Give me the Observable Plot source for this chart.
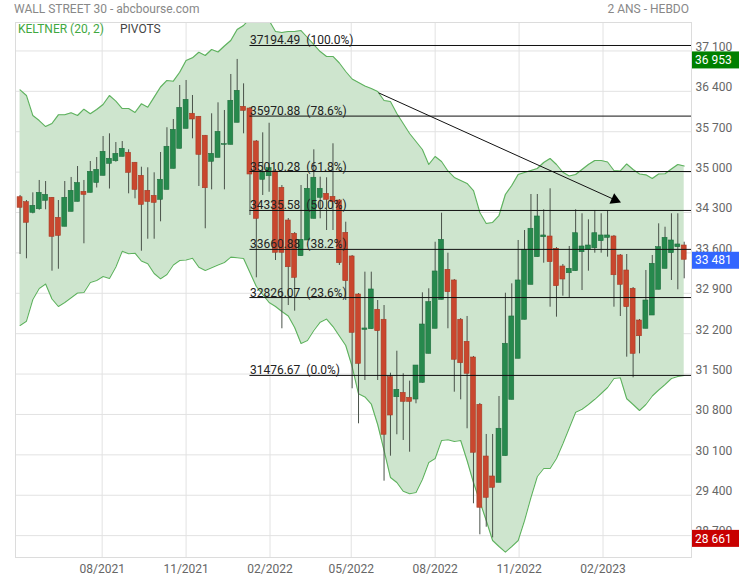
<!DOCTYPE html>
<html><head><meta charset="utf-8">
<script src="https://cdn.jsdelivr.net/npm/d3@7"></script>
<script src="https://cdn.jsdelivr.net/npm/@observablehq/plot@0.6"></script>
<style>
body{margin:0;background:#fff;font-family:Roboto,sans-serif;}
#wrap{position:relative;width:739px;height:580px;overflow:hidden;}
.t{position:absolute;font-size:12px;white-space:pre;line-height:14px;font-family:Roboto,sans-serif;}
</style></head><body>
<div id="wrap">
<div class="t" style="left:14px;top:2px;color:#888">WALL STREET 30 - abcbourse.com</div>
<div class="t" style="right:50px;top:2px;color:#888">2 ANS - HEBDO</div>
<div class="t" style="left:18px;top:22px;color:#3fa83f">KELTNER (20, 2)</div>
<div class="t" style="left:120px;top:22px;color:#444">PIVOTS</div>
</div>
<script>
const firstWeek = "2021-05-03";
const opens = [34565,34479,34295,34357,34503,34555,34208,34053,34312,34485,
34658,34641,34811,34936,35144,35189,35265,35335,35162,34936,
34676,34589,34520,34693,35057,35404,35750,36011,35959,35630,
35179,35248,35473,35473,35855,36132,36102,35531,34867,34929,
35011,34728,34161,33931,33543,33815,34191,34555,34624,34572,
34508,33948,33538,32879,32267,32278,32614,32441,31446,31099,
31175,31089,31059,31349,31851,32285,32787,33307,33122,32441,
32059,31787,30967,30071,29725,29616,30078,31054,31765,32441,
33047,33526,33872,33884,33671,33364,33248,33283,33612,33654,
33681,33803,33861,33884,33555,33295,32978,32428,32285,32515,
32961,33324,33595,33699,33728];
const highs = [34595,34508,34641,34855,34837,34560,34508,34837,34907,35097,
34855,35184,35253,35617,35664,35513,35530,35387,35167,35085,
35075,34988,35340,35769,35912,36501,36588,36328,35964,35635,
36011,36201,36068,36692,36953,36530,36120,35548,35681,35847,
35045,34768,34196,33953,34768,34959,35387,34912,34902,35491,
34525,34132,33555,32896,33266,33266,32775,32688,31515,31896,
31505,31377,31648,32908,32978,33785,34288,33595,33139,32463,
32498,31805,30990,30453,30453,31111,32901,33064,33815,33988,
34612,34612,34347,34711,33693,33399,33711,34347,34278,34173,
34335,34278,34335,33902,33572,33572,33000,32446,33295,33555,
34104,34045,34278,34278,33785];
const lows = [33572,33498,34277,34340,34347,33283,33317,34053,34312,34485,
33758,34641,34725,34936,34707,35172,35265,34624,34537,33629,
33837,33837,34139,34693,35057,35404,35750,35577,34751,34018,
34693,35248,34693,35473,35855,35664,34248,33168,34595,34651,
33468,32285,32688,32590,33537,33815,34191,34191,33988,33988,
33382,32775,31245,30638,31389,32278,31389,29644,30077,30448,
30349,30146,30985,31342,31851,32285,32787,32285,31186,31054,
30552,29252,28715,28846,28661,29616,30078,31054,31765,32441,
33047,33526,33421,32659,32486,32850,32822,33283,32948,33283,
33595,33595,33526,32659,32498,31793,31435,31851,32285,32515,
32961,33324,33122,32961,33151];
const closes = [34382,34122,34416,34641,34606,33879,33896,34555,34676,34811,
34606,35005,35040,35352,35231,35317,35404,34988,34693,34433,
34485,34468,34867,35439,35733,36114,36253,35912,35300,34721,
35317,35698,35484,36236,36409,36062,34959,34191,34988,35068,
33602,33602,33352,33168,33827,34711,34902,34711,34520,34479,
33422,33110,32215,31678,32290,32966,32243,30448,30782,31227,
31019,31019,31648,32359,32746,33278,33827,32919,31748,31688,
31505,30136,29183,29356,29529,30552,32025,32498,33122,33654,
34018,34231,33902,33439,33023,33139,33324,33941,33711,33728,
33941,33902,33902,33213,33047,32659,31851,32156,32775,33411,
33699,33861,33815,33746,33481];
const keltnerUpper = [36426,36328,35981,35894,35790,35842,35993,35993,36028,35981,
36090,36011,36085,36172,36328,36229,36102,36102,36033,36184,
36125,36299,36475,36588,36576,36731,36934,36981,37078,37021,
37125,37082,37186,37281,37471,37541,37662,37697,37697,37627,
37437,37419,37437,37437,37454,37333,37211,37090,37004,37004,
36891,36744,36614,36553,36492,36449,36397,36241,36224,36016,
35842,35669,35531,35392,35132,35271,35184,35020,34907,34855,
34803,34681,34300,34109,34127,34248,34612,34768,34959,34993,
35028,35063,35167,35236,35132,34998,34933,34959,35045,35132,
35201,35201,35175,35028,35020,35141,35045,34967,34953,34889,
34967,34971,35054,35132,35106];
const keltnerLower = [32342,32416,32792,32983,33061,32801,32671,32740,32822,32905,
32914,33087,33122,33191,33156,33356,33629,33584,33595,33460,
33411,33243,33151,33226,33390,33468,33477,33508,33352,33295,
33342,33390,33434,33526,33515,33503,33260,33018,32879,32740,
32671,32584,32506,32307,32030,32082,32255,32399,32454,32324,
32160,31995,31631,31158,31103,30981,30626,30176,29708,29621,
29470,29425,29448,29673,29968,30037,30349,30361,30332,30349,
30002,29621,29292,28962,28616,28512,28413,28512,28616,28962,
29361,29725,29864,29864,30037,30292,30566,30839,30891,30973,
31063,31163,31267,31423,31435,31072,30973,30869,30973,31120,
31224,31319,31423,31458,31475];
const fibLevels = [37194.49, 35970.88, 35010.28, 34335.58, 33660.88, 32826.07, 31476.67];
const fibLabels = ["37194.49\u00a0\u00a0(100.0%)","35970.88\u00a0\u00a0(78.6%)","35010.28\u00a0\u00a0(61.8%)","34335.58\u00a0\u00a0(50.0%)","33660.88\u00a0\u00a0(38.2%)","32826.07\u00a0\u00a0(23.6%)","31476.67\u00a0\u00a0(0.0%)"];
const fibStart = "2022-01-10";
const yTicks = [28700,29400,30100,30800,31500,32200,32900,33600,34300,35000,35700,36400,37100];
const xTicks = ["2021-08-01","2021-11-01","2022-02-01","2022-05-01","2022-08-01","2022-11-01","2023-02-01"];
const xDomain = ["2021-04-28","2023-05-09"];
const yDomain = [28321, 37593];
const badgeValues = [36953, 33481, 28661];
const badgeColors = ["#008000", "#3366ff", "#c80000"];
const arrowStart = {date:"2022-05-31", value:36374};
const arrowEnd = {date:"2023-02-14", value:34520};

const start = new Date(firstWeek);
const candles = opens.map((o,i)=>({
  date: d3.utcDay.offset(start, 7*i),
  open:o, high:highs[i], low:lows[i], close:closes[i],
  upper:keltnerUpper[i], lower:keltnerLower[i]
}));
const up = candles.filter(d=>d.close>=d.open);
const down = candles.filter(d=>d.close<d.open);
const half = 2.7*24*3600*1000;
const xEnd = new Date(xDomain[1]);
const fibStartDate = new Date(fibStart);
const fibs = fibLevels.map((v,i)=>({value:v,label:fibLabels[i]}));
const fmt = d => d3.format(",")(d).replace(/,/g," ");

const chart = Plot.plot({
  width:739, height:580,
  marginTop:22, marginBottom:23, marginLeft:15, marginRight:48,
  x:{type:"utc", domain:xDomain.map(d=>new Date(d))},
  y:{domain:yDomain},
  style:{fontFamily:"Roboto, sans-serif", fontSize:"12px", background:"transparent", overflow:"visible"},
  marks:[
    Plot.gridY(yTicks,{stroke:"#e2e2e2", strokeOpacity:1}),
    Plot.gridX(xTicks.map(d=>new Date(d)),{stroke:"#e2e2e2", strokeOpacity:1}),
    Plot.areaY(candles,{x:"date", y1:"lower", y2:"upper", fill:"#cee5ce", fillOpacity:1, clip:true}),
    Plot.line(candles,{x:"date", y:"upper", stroke:"#5eb25e", strokeWidth:1.1, clip:true}),
    Plot.line(candles,{x:"date", y:"lower", stroke:"#5eb25e", strokeWidth:1.1, clip:true}),
    Plot.frame({stroke:"#dcdcdc"}),
    Plot.ruleX(candles,{x:"date", y1:"low", y2:"high", stroke:"#4a524a", strokeWidth:1}),
    Plot.rect(up,{x1:d=>new Date(+d.date-half), x2:d=>new Date(+d.date+half), y1:"open", y2:"close", fill:"#27894d", stroke:"#1f6e3e", strokeWidth:0.6}),
    Plot.rect(down,{x1:d=>new Date(+d.date-half), x2:d=>new Date(+d.date+half), y1:"open", y2:"close", fill:"#c9472e", stroke:"#a63a25", strokeWidth:0.6}),
    Plot.ruleY(fibs,{y:"value", x1:()=>fibStartDate, x2:()=>xEnd, stroke:"#111", strokeWidth:1}),
    Plot.text(fibs,{x:()=>fibStartDate, y:"value", text:"label", textAnchor:"start", lineAnchor:"bottom", dy:-1, fill:"#222", fontSize:12}),
    Plot.link([0],{x1:()=>new Date(arrowStart.date), y1:()=>arrowStart.value, x2:()=>new Date(arrowEnd.date), y2:()=>arrowEnd.value, stroke:"#111", strokeWidth:1}),
    Plot.dot([0],{x:()=>new Date(arrowEnd.date), y:()=>arrowEnd.value, symbol:"triangle", r:4.3, fill:"#000", stroke:"none", rotate:114}),
    Plot.axisY(yTicks,{anchor:"right", tickSize:0, tickPadding:4, dy:-4, tickFormat:fmt, fill:"#666", fontSize:12, label:null}),
    Plot.axisX(xTicks.map(d=>new Date(d)),{tickSize:0, tickPadding:7, tickFormat:d3.utcFormat("%m/%Y"), fill:"#666", fontSize:12, label:null})
  ]
});

const wrap = document.getElementById("wrap");
wrap.prepend(chart);
const svg = d3.select(chart);
const ys = chart.scale("y");
const xs = chart.scale("x");
const bx = xs.range[1] + 1;
const badgeLayer = svg.append("g").attr("text-anchor","start");
badgeValues.forEach((v,i)=>{
  const yy = ys.apply(v);
  badgeLayer.append("rect").attr("x",bx).attr("y",yy-7.5).attr("width",739-bx).attr("height",17).attr("fill",badgeColors[i]);
  badgeLayer.append("text").attr("x",bx+3).attr("y",yy+1).attr("dy","0.35em").attr("text-anchor","start").attr("fill","#fff").attr("font-size",12).attr("font-family","Roboto, sans-serif").text(fmt(v));
});
</script>
</body></html>
